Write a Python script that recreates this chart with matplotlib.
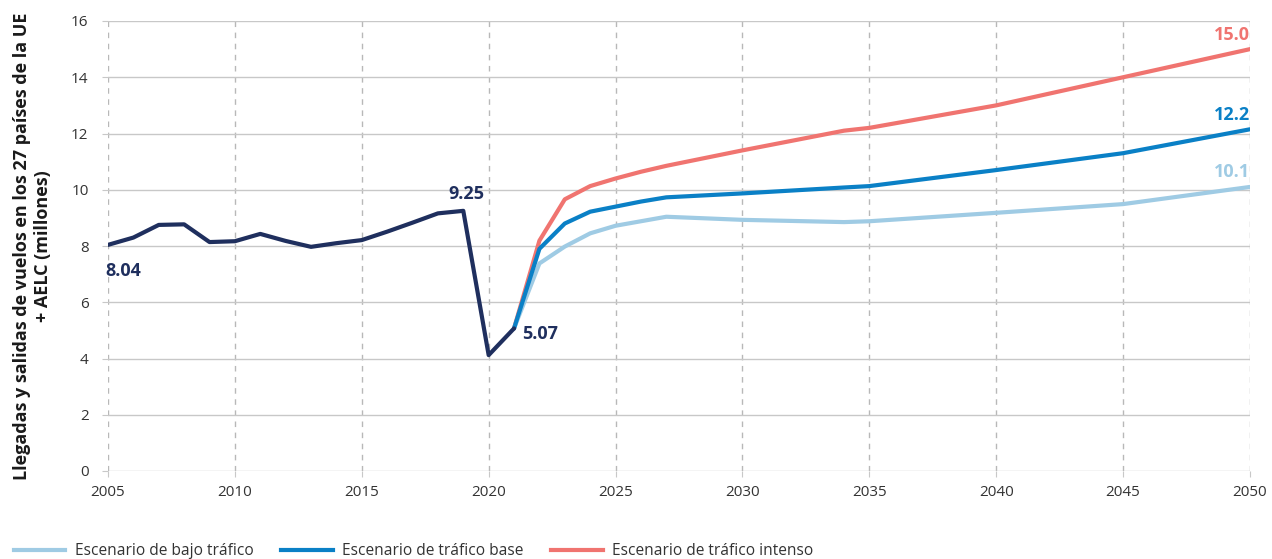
import matplotlib
matplotlib.use("Agg")
import matplotlib.pyplot as plt
from matplotlib.lines import Line2D

plt.rcParams['font.family'] = ['Open Sans', 'DejaVu Sans']

hist_years = list(range(2005, 2022))
hist_values = [8.04, 8.30, 8.75, 8.77, 8.14, 8.17, 8.43, 8.18, 7.97, 8.10, 8.21, 8.51, 8.83, 9.16, 9.25, 4.12, 5.07]

proj_years = [2021, 2022, 2023, 2024, 2025, 2026, 2027, 2030, 2034, 2035, 2040, 2045, 2050]
low_values = [5.07, 7.38, 7.98, 8.45, 8.72, 8.88, 9.04, 8.93, 8.85, 8.88, 9.18, 9.49, 10.1]
base_values = [5.07, 7.90, 8.80, 9.22, 9.40, 9.58, 9.73, 9.87, 10.08, 10.13, 10.70, 11.30, 12.15]
high_values = [5.07, 8.19, 9.66, 10.13, 10.40, 10.64, 10.85, 11.40, 12.10, 12.20, 13.00, 14.00, 15.00]

series_names = ["Escenario de bajo tráfico", "Escenario de tráfico base", "Escenario de tráfico intenso"]
y_label = "Llegadas y salidas de vuelos en los 27 países de la UE\n+ AELC (millones)"
x_ticks = list(range(2005, 2051, 5))
y_ticks = list(range(0, 17, 2))

c_hist = "#1f2f5e"
c_low = "#9fcbe4"
c_base = "#0a80c6"
c_high = "#f07470"

fig = plt.figure(figsize=(12.72, 5.59), dpi=100)
ax = fig.add_axes([108/1272, 1-471/559, (1250-108)/1272, 450/559])

ax.set_xlim(2005, 2050)
ax.set_ylim(0, 16)
ax.set_yticks(y_ticks)
ax.set_xticks(x_ticks)
ax.grid(axis='y', color='#c8c8c8', linewidth=1.0, linestyle='-')
ax.grid(axis='x', color='#b8b8b8', linewidth=1.0, linestyle=(0, (4, 4)))
ax.set_axisbelow(True)
for s in ax.spines.values():
    s.set_visible(False)
ax.tick_params(axis='both', length=4, color='#c8c8c8', labelsize=11, labelcolor='#333333')
ax.tick_params(axis='y', pad=10)
ax.tick_params(axis='x', pad=6)

ax.plot(proj_years, low_values, color=c_low, lw=3, solid_capstyle='round', zorder=3)
ax.plot(proj_years, base_values, color=c_base, lw=3, solid_capstyle='round', zorder=4)
ax.plot(proj_years, high_values, color=c_high, lw=3, solid_capstyle='round', zorder=2)
ax.plot(hist_years, hist_values, color=c_hist, lw=3, solid_capstyle='round', zorder=5)

ax.set_ylabel(y_label, fontsize=13, fontweight='bold', color='#1a1a1a', labelpad=14, linespacing=1.2)

ax.annotate(f"{hist_values[0]:.2f}", (hist_years[0], hist_values[0]), xytext=(-2, -12),
            textcoords='offset points', ha='left', va='top', fontsize=13, fontweight='bold', color=c_hist)
ax.annotate(f"{hist_values[14]:.2f}", (hist_years[14], hist_values[14]), xytext=(2, 6),
            textcoords='offset points', ha='center', va='bottom', fontsize=13, fontweight='bold', color=c_hist)
ax.annotate(f"{hist_values[16]:.2f}", (hist_years[16], hist_values[16]), xytext=(6, -4),
            textcoords='offset points', ha='left', va='center', fontsize=13, fontweight='bold', color=c_hist)
for vals, col in [(high_values, c_high), (base_values, c_base), (low_values, c_low)]:
    ax.annotate(f"{vals[-1]:.1f}", (proj_years[-1], vals[-1]), xytext=(0, 4),
                textcoords='offset points', ha='right', va='bottom', fontsize=13, fontweight='bold', color=col)

handles = [Line2D([0], [0], color=c, lw=3) for c in (c_low, c_base, c_high)]
fig.legend(handles, series_names, loc='lower left', bbox_to_anchor=(0.0, -0.025), ncol=3,
           frameon=False, fontsize=11.2, handlelength=3.3, columnspacing=1.8, handletextpad=0.6,
           labelcolor='#333333')

fig.savefig("out.png", dpi=100)
